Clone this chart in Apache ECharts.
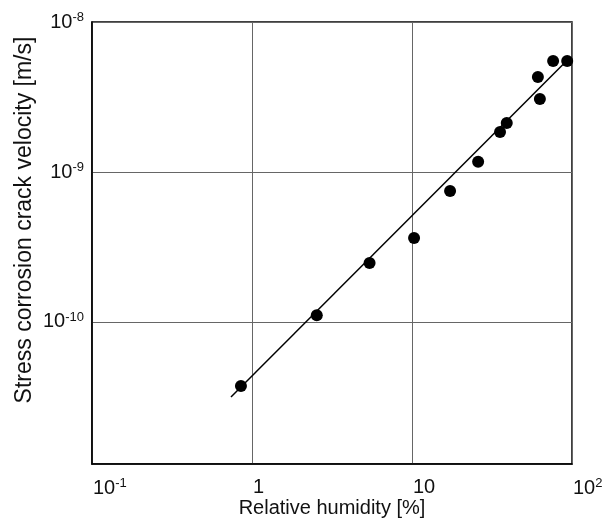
<!DOCTYPE html>
<html>
<head>
<meta charset="utf-8">
<script src="https://cdn.jsdelivr.net/npm/echarts@6/dist/echarts.min.js"></script>
<style>html,body{margin:0;padding:0;background:#fff}#c{width:604px;height:520px}</style>
</head>
<body>
<div id="c"></div>
<script>
// Measured data: relative humidity [%] vs crack velocity [m/s]
var humidity = [0.853, 2.54, 5.43, 10.3, 17.3, 25.9, 35.5, 39.1, 61.2, 63.0, 76.2, 93.3];
var velocity = [3.74e-11, 1.11e-10, 2.47e-10, 3.63e-10, 7.47e-10, 1.17e-9, 1.85e-9, 2.12e-9, 4.30e-9, 3.07e-9, 5.50e-9, 5.50e-9];
// Fitted trend line end points
var fitX = [0.739, 91.0];
var fitY = [3.16e-11, 5.41e-9];
// Axis ranges
var xRange = [0.1, 100];
var yRange = [1.13e-11, 1e-8];
var xTickLabels = {'0.1': ['10', '-1'], '1': ['1', ''], '10': ['10', ''], '100': ['10', '2']};
var yTickLabels = {'-8': ['10', '-8'], '-9': ['10', '-9'], '-10': ['10', '-10']};

var chart = echarts.init(document.getElementById('c'));
var font = 'Liberation Sans, Arial, sans-serif';
var rich = {
  b: {fontSize: 20, color: '#111', fontFamily: font},
  s: {fontSize: 13, color: '#111', fontFamily: font, verticalAlign: 'top', padding: [0, 0, 9, 0]}
};
function fmt(base, sup) { return sup ? '{b|' + base + '}{s|' + sup + '}' : '{b|' + base + '}'; }

chart.setOption({
  animation: false,
  grid: {left: 92, top: 22, right: 32, bottom: 56, containLabel: false, outerBoundsMode: 'none',
         show: true, borderColor: '#000', borderWidth: 1.5, backgroundColor: 'transparent'},
  xAxis: {
    type: 'log', logBase: 10, min: xRange[0], max: xRange[1],
    name: 'Relative humidity [%]', nameLocation: 'middle', nameGap: 34, nameMoveOverlap: false,
    nameTextStyle: {fontSize: 20, color: '#111', fontFamily: font},
    axisLine: {show: true, lineStyle: {color: '#000', width: 1.5}},
    axisTick: {show: false},
    splitLine: {show: true, lineStyle: {color: '#666', width: 1}},
    axisLabel: {
      margin: 13, rich: rich, align: 'left', padding: [0, 0, 0, 1],
      formatter: function (v) {
        var k = String(Math.round(v * 1000) / 1000);
        var t = xTickLabels[k];
        return t ? fmt(t[0], t[1]) : '';
      }
    }
  },
  yAxis: {
    type: 'log', logBase: 10, min: yRange[0], max: yRange[1],
    name: 'Stress corrosion crack velocity [m/s]', nameLocation: 'middle', nameGap: 56, nameMoveOverlap: false,
    nameTextStyle: {fontSize: 23, color: '#111', fontFamily: font, padding: [0, 0, 0, 46]},
    axisLine: {show: true, lineStyle: {color: '#000', width: 1.5}},
    axisTick: {show: false},
    splitLine: {show: true, lineStyle: {color: '#666', width: 1}},
    axisLabel: {
      margin: 8, rich: rich,
      formatter: function (v) {
        var e = Math.log10(v);
        if (Math.abs(e - Math.round(e)) > 1e-6) return '';
        var t = yTickLabels[String(Math.round(e))];
        return t ? fmt(t[0], t[1]) : '';
      }
    }
  },
  series: [
    {
      type: 'line', data: fitX.map(function (x, i) { return [x, fitY[i]]; }),
      showSymbol: false, lineStyle: {color: '#000', width: 1.5}, z: 2
    },
    {
      type: 'scatter', data: humidity.map(function (x, i) { return [x, velocity[i]]; }),
      symbol: 'circle', symbolSize: 12, itemStyle: {color: '#000', opacity: 1}, z: 3
    }
  ]
});
</script>
</body>
</html>
